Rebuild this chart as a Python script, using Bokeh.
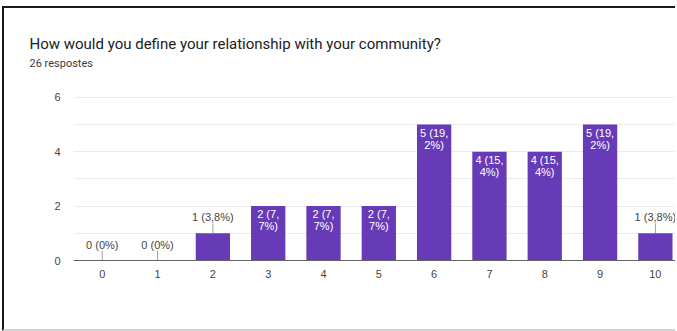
import math
from bokeh.plotting import figure
from bokeh.models import Range1d, FixedTicker, Title
from bokeh.core.properties import value
from bokeh.embed import file_html
from bokeh.resources import INLINE

title_text = "How would you define your relationship with your community?"
subtitle_text = "26 respostes"
categories = ["0", "1", "2", "3", "4", "5", "6", "7", "8", "9", "10"]
counts = [0, 0, 1, 2, 2, 2, 5, 4, 4, 5, 1]
total = 26

FONT = "Roboto"
LFONT = "Liberation Sans"
PURPLE = "#673ab7"

xs = [int(c) for c in categories]


def pct_text(c):
    p = round(100.0 * c / total, 1)
    if p == int(p):
        return f"{int(p)}%"
    return f"{p:.1f}".replace(".", ",") + "%"


labels = [f"{c} ({pct_text(c)})" for c in counts]

inside = [c >= 2 for c in counts]
in_x, in_y, in_l1, in_l2 = [], [], [], []
out_x, out_y, out_l = [], [], []
for x, c, lab, ins in zip(xs, counts, labels, inside):
    if ins:
        head, tail = lab.split(",", 1)
        in_x.append(x)
        in_y.append(c)
        in_l1.append(head + ",")
        in_l2.append(tail)
    else:
        out_x.append(x)
        out_y.append(c)
        out_l.append(lab)

p = figure(
    width=673, height=325,
    x_range=Range1d(-0.52, 10.40), y_range=Range1d(0, 6.03),
    output_backend="svg", toolbar_location=None,
    min_border_left=69, min_border_right=0, min_border_top=88, min_border_bottom=73,
)
p.styles = {
    "margin-left": "2px", "margin-top": "6px",
    "border-left": "2px solid #1a1a1a", "border-top": "2px solid #1a1a1a",
    "border-bottom": "2px solid #d4d4d4",
}
p.outline_line_color = None
p.background_fill_color = "white"
p.border_fill_color = "white"

sub = Title(text=subtitle_text, text_font=FONT, text_font_size="11px",
            text_font_style="normal", text_color="#3c3c3c", align="left",
            offset=-44, standoff=53)
p.add_layout(sub, "above")
main = Title(text=title_text, text_font=FONT, text_font_size="15px",
             text_font_style="normal", text_color="#202124", align="left",
             offset=-44, standoff=-48)
p.add_layout(main, "above")

p.vbar(x=xs, top=counts, width=0.62, fill_color=PURPLE, line_color=None)

# inside labels (white, two lines)
p.text(x=in_x, y=in_y, text=in_l1, text_color="white", text_font=value(LFONT),
       text_font_size="11px", text_align="center", text_baseline="top", y_offset=2)
p.text(x=in_x, y=in_y, text=in_l2, text_color="white", text_font=value(LFONT),
       text_font_size="11px", text_align="center", text_baseline="top", y_offset=14)

# outside labels with leader lines
p.ray(x=out_x, y=out_y, length=10, angle=math.pi / 2, length_units="screen",
      line_color="#9e9e9e", line_width=1)
p.text(x=out_x, y=out_y, text=out_l, text_color="#444444", text_font=value(LFONT),
       text_font_size="11px", text_align="center", text_baseline="bottom", y_offset=-10)

p.xaxis.ticker = FixedTicker(ticks=xs)
p.xaxis.major_label_overrides = {x: c for x, c in zip(xs, categories)}
p.xaxis.axis_line_color = "#666666"
p.xaxis.major_tick_line_color = None
p.xaxis.minor_tick_line_color = None
p.xaxis.major_label_text_font = LFONT
p.xaxis.major_label_text_font_size = "11px"
p.xaxis.major_label_text_color = "#444444"
p.xaxis.major_label_standoff = 3

p.yaxis.ticker = FixedTicker(ticks=[0, 2, 4, 6], minor_ticks=[1, 3, 5])
p.yaxis.axis_line_color = None
p.yaxis.major_tick_line_color = None
p.yaxis.minor_tick_line_color = None
p.yaxis.major_label_text_font = LFONT
p.yaxis.major_label_text_font_size = "11px"
p.yaxis.major_label_text_color = "#444444"
p.yaxis.major_label_standoff = 7

p.xgrid.grid_line_color = None
p.ygrid.grid_line_color = "#ebebeb"
p.ygrid.minor_grid_line_color = "#ebebeb"

open("out.html", "w").write(file_html(p, INLINE))
